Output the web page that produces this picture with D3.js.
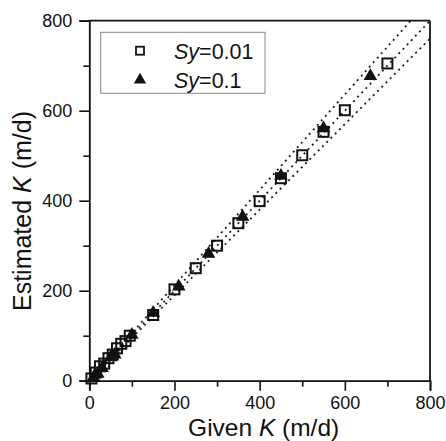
<!DOCTYPE html>
<html>
<head>
<meta charset="utf-8">
<title>Given vs Estimated K</title>
<script src="https://d3js.org/d3.v7.min.js"></script>
<style>
  body { margin: 0; background: #fff; }
  text { font-family: "Liberation Sans", Arial, Helvetica, sans-serif; }
</style>
</head>
<body>
<div id="chart"></div>
<script>
const width = 446;
const height = 441;

// Sy = 0.01 (open squares)
const sq_given = [5, 15, 25, 35, 45, 55, 65, 75, 85, 95, 150, 200, 250, 300, 350, 400, 450, 500, 550, 600, 700];
const sq_est   = [5, 18, 32, 38, 50, 58, 72, 82, 88, 100, 146, 203, 250, 300, 350, 399, 450, 501, 553, 601, 705];

// Sy = 0.1 (filled triangles)
const tri_given = [10, 20, 30, 50, 60, 100, 150, 210, 280, 360, 450, 550, 660];
const tri_est   = [8, 15, 28, 52, 58, 102, 151, 209, 282, 364, 455, 561, 677];

// dotted reference lines y = k*x
const slopes = [1.06, 1.0, 0.95];

const xTicks = [0, 200, 400, 600, 800];
const yTicks = [0, 200, 400, 600, 800];
const minorTicks = [100, 300, 500, 700];

const legendLabels = ["0.01", "0.1"];

const pLeft = 89.3, pRight = 430, pTop = 20.7, pBottom = 380.7;

const svg = d3.select("#chart").append("svg")
  .attr("width", width).attr("height", height);

const x = d3.scaleLinear().domain([0, 800]).range([pLeft, pRight]);
const y = d3.scaleLinear().domain([0, 800]).range([pBottom, pTop]);

svg.append("clipPath").attr("id", "clip")
  .append("rect").attr("x", pLeft).attr("y", pTop)
  .attr("width", pRight - pLeft).attr("height", pBottom - pTop);

// reference lines
svg.append("g").attr("clip-path", "url(#clip)")
  .selectAll("line").data(slopes).enter().append("line")
  .attr("x1", x(0)).attr("y1", y(0))
  .attr("x2", x(900)).attr("y2", d => y(900 * d))
  .attr("stroke", "#222").attr("stroke-width", 1.8)
  .attr("stroke-dasharray", "2,4");

// axes
const tickFont = "18px";
svg.append("g").attr("transform", `translate(0,${pBottom})`)
  .call(d3.axisBottom(x).tickValues(xTicks).tickSize(10).tickPadding(6).tickFormat(d3.format("d")));
svg.append("g").attr("transform", `translate(0,${pBottom})`)
  .call(d3.axisBottom(x).tickValues(minorTicks).tickSize(6).tickFormat(""))
  .call(g => g.select(".domain").remove());
svg.append("g").attr("transform", `translate(${pLeft},0)`)
  .call(d3.axisLeft(y).tickValues(yTicks).tickSize(10).tickPadding(7).tickFormat(d3.format("d")));
svg.append("g").attr("transform", `translate(${pLeft},0)`)
  .call(d3.axisLeft(y).tickValues(minorTicks).tickSize(6).tickFormat(""))
  .call(g => g.select(".domain").remove());

svg.selectAll(".tick text").attr("font-size", tickFont).attr("fill", "#111")
  .attr("font-family", "'Liberation Sans', Arial, sans-serif");
svg.selectAll(".tick line").attr("stroke", "#111").attr("stroke-width", 1.6);
svg.selectAll(".domain").attr("stroke", "#111").attr("stroke-width", 1.8);

// top and right frame
svg.append("line").attr("x1", pLeft).attr("x2", pRight).attr("y1", pTop).attr("y2", pTop)
  .attr("stroke", "#111").attr("stroke-width", 1.8);
svg.append("line").attr("x1", pRight).attr("x2", pRight).attr("y1", pTop).attr("y2", pBottom)
  .attr("stroke", "#111").attr("stroke-width", 1.8);

// markers
const sqSize = 10;
const sqData = sq_given.map((g, i) => [g, sq_est[i]]);
const triData = tri_given.map((g, i) => [g, tri_est[i]]);

svg.append("g").selectAll("rect").data(sqData).enter().append("rect")
  .attr("x", d => x(d[0]) - sqSize / 2).attr("y", d => y(d[1]) - sqSize / 2)
  .attr("width", sqSize).attr("height", sqSize)
  .attr("fill", "none").attr("stroke", "#111").attr("stroke-width", 2);

const tri = d3.symbol().type(d3.symbolTriangle).size(80);
svg.append("g").selectAll("path").data(triData).enter().append("path")
  .attr("d", tri)
  .attr("transform", d => `translate(${x(d[0])},${y(d[1])})`)
  .attr("fill", "#111");

// legend
const lg = svg.append("g");
lg.append("rect").attr("x", 100.7).attr("y", 32.3).attr("width", 164.3).attr("height", 61)
  .attr("fill", "#fff").attr("stroke", "#888").attr("stroke-width", 1);
lg.append("rect").attr("x", 140 - 4).attr("y", 50.7 - 4).attr("width", 8).attr("height", 8)
  .attr("fill", "none").attr("stroke", "#111").attr("stroke-width", 1.8);
lg.append("path").attr("d", d3.symbol().type(d3.symbolTriangle).size(66)).attr("transform", "translate(140,80)").attr("fill", "#111");
legendLabels.forEach((lab, i) => {
  const t = lg.append("text").attr("x", 174).attr("y", 58.5 + i * 29.5)
    .attr("font-size", "21.5px").attr("fill", "#111");
  t.append("tspan").attr("font-style", "italic").text("Sy");
  t.append("tspan").text("=" + lab);
});

// axis titles
const xt = svg.append("text").attr("x", (pLeft + pRight) / 2 + 4).attr("y", 435.8)
  .attr("text-anchor", "middle").attr("font-size", "24.5px").attr("fill", "#111");
xt.append("tspan").text("Given ");
xt.append("tspan").attr("font-style", "italic").text("K");
xt.append("tspan").text(" (m/d)");

const yt = svg.append("text").attr("transform", "translate(31,211) rotate(-90)")
  .attr("text-anchor", "middle").attr("font-size", "25px").attr("fill", "#111");
yt.append("tspan").text("Estimated ");
yt.append("tspan").attr("font-style", "italic").text("K");
yt.append("tspan").text(" (m/d)");
</script>
</body>
</html>
